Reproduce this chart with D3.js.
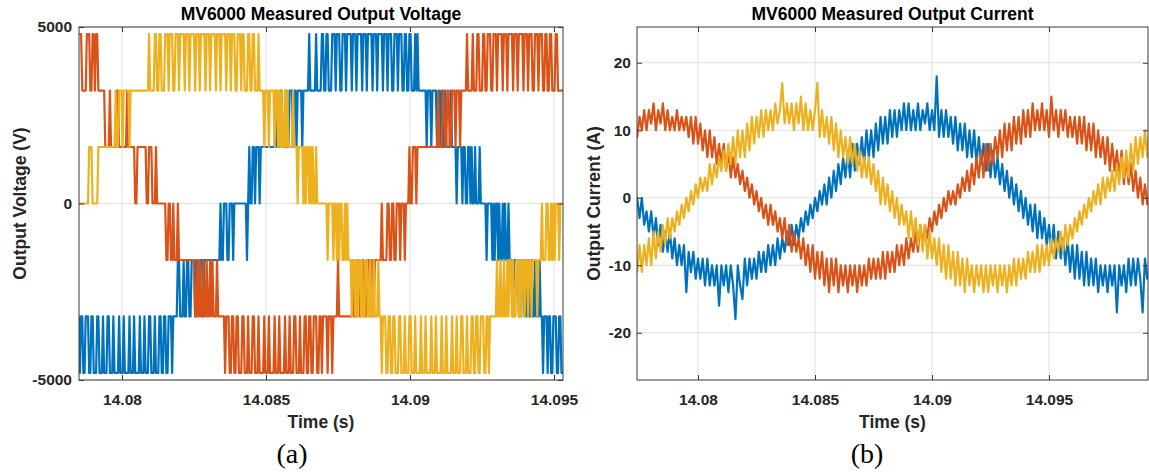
<!DOCTYPE html>
<html>
<head>
<meta charset="utf-8">
<script src="https://cdn.jsdelivr.net/npm/d3@7/dist/d3.min.js"></script>
<style>
  html, body { margin: 0; padding: 0; background: #ffffff; }
  svg { display: block; }
</style>
</head>
<body>
<svg id="fig" width="1149" height="475"></svg>
<script>
// ---------------------------------------------------------------
// Measured output voltage of the three phases (MV6000 cascaded inverter).
// One level code per 40 us sample; code k stands for (k - 3) cell steps.
// ---------------------------------------------------------------
const voltageStart = 14.0785;   // s, first sample
const voltageStep = 0.00004;    // s between samples
const cellStep = 1600;          // V per cell level

// phase A (blue)
const voltageA = [
  "1011","00111","0011","00011","0001","00011","0001","00001","0001","00001",
  "0001","00001","0001","00011","0001","00011","0011","00111","01111",
  "2211","1211","2211","2221","2212","22122",
  "222222222222",
  "3223","3322","3332","33",
  "3333333332",
  "3433","4434","4434","44",
  "4444444444",
  "5444","5544","4544","5554","5545","5554","5555",
  "5655555",
  "65555","6655","66555","6665","66655","6665","66665","6665","66665","6665",
  "66665","6665","66665","6665","66655","6665","66655","6655","66555","65655",
  "55555",
  "4555","4555","5445","4544","5444","45444",
  "4344","4434","4334","4343","3433","3433","33",
  "3233","3323","2332","3223","2322","322",
  "2122","2212","1221","2121","1211","2111","21",
  "1011","1011","00111","0011","00"
].join("");

// phase B (orange)
const voltageB = [
  "6665555666","5566566555",
  "5554444544","4445544444","4454444443","3444444443","3444333433",
  "3333332233","2232223222","2222222222",
  "2112121121","1211212111","2111111011",
  "10011","0011","00011","0001","00011","0001","00001","0001","00001","0001",
  "00001","0001","00011","0001","00011","0011","00111","0011","01111","0111","01111",
  "2111111111111",
  "2111","2211","2211","2221","2212","22222",
  "32222","3322","3322","3332","3332","333",
  "4334443444",
  "444444444444444",
  "5444","5544","5544","5554","5554","55555",
  "65555","6555","66555","6655","66655","6665","66665","6665","66665","6665",
  "66665","6665","66655","6665","66655","6655","66555","6655","555"
].join("");

// phase C (yellow)
const voltageC = [
  "3333333",
  "33444","3333","3444","4",
  "44444444444",
  "5445","5545","5555","4555","5",
  "555555555555",
  "65555","6655","66555","6665","66655","6665","66665","6665","66665","6665","66665",
  "6665","66665","6665","66665","6665","66655","6665","66555","6655","66555","65",
  "555",
  "4555","4555","5455","4545","4454","5444","4544",
  "4344","4434","3443","4343","3433","3",
  "333333",
  "2333","3233","2323","3223","2322",
  "2122","1212","2121","1221","1211","2111","21",
  "1011","10011","0011","00011","0001","00011","0001","00001","0001","00001","0001",
  "00001","0001","00001","0001","00011","0001","00011","0011","00111","0011","01111","11",
  "2112","1121","1212","2121","1221","2122","1221","2212","2221","222",
  "3222","3322","3232","3332","333"
].join("");

// ---------------------------------------------------------------
// Measured output current of the three phases, one sample per 100 us (A).
// ---------------------------------------------------------------
const currentStart = 14.0774;
const currentStep = 0.0001;

// phase A (blue)
const currentA = [
  0,-3,0,-4,-2,-5,-2,-6,-3,-7,
  -4,-8,-5,-8,-5,-9,-6,-10,-7,-10,
  -7,-14,-8,-11,-8,-12,-9,-12,-9,-13,
  -9,-13,-10,-13,-10,-16,-10,-13,-10,-14,
  -10,-13,-18,-10,-13,-15,-9,-13,-9,-12,
  -9,-12,-8,-11,-8,-11,-7,-10,-7,-10,
  -6,-9,-6,-8,-5,-7,-4,-7,-4,-6,
  -3,-5,-2,-4,-1,-3,0,-2,1,-1,
  2,-1,3,0,4,1,5,2,6,3,
  7,3,8,4,8,5,9,5,10,6,
  10,6,11,7,12,8,12,8,13,9,
  13,9,13,10,14,10,14,10,13,10,
  14,10,13,11,14,10,13,10,18,9,
  13,9,13,9,12,8,12,7,11,7,
  11,6,10,6,10,5,9,5,8,4,
  8,3,7,3,6,2,5,1,4,0,
  3,-1,2,-2,1,-3,0,-4,-1,-5,
  -1,-6,-2,-6,-3,-7,-4,-8,-4,-9,
  -5,-9,-6,-10,-6,-11,-7,-12,-7,-12,
  -8,-13,-8,-13,-9,-13,-9,-14,-10,-13,
  -10,-14,-10,-13,-10,-17,-10,-13,-10,-14,
  -9,-13,-9,-13,-9,-12,-17,-9,-12,-10
];

// phase B (orange)
const currentB = [
  9,12,10,13,10,13,11,14,10,13,
  11,14,10,13,10,12,10,13,10,12,
  10,12,9,12,8,12,8,11,7,10,
  6,10,6,9,5,8,5,8,4,7,
  3,6,3,5,2,4,1,3,0,2,
  -1,1,-2,0,-3,-1,-4,-1,-4,-2,
  -5,-3,-6,-3,-7,-4,-8,-5,-8,-6,
  -9,-6,-10,-7,-11,-7,-12,-8,-12,-8,
  -13,-9,-14,-9,-13,-9,-14,-10,-13,-10,
  -14,-10,-13,-10,-14,-10,-13,-10,-13,-9,
  -12,-9,-12,-9,-12,-8,-12,-8,-11,-8,
  -11,-7,-10,-7,-10,-6,-9,-6,-8,-5,
  -8,-4,-7,-4,-6,-3,-5,-2,-4,-1,
  -3,0,-2,1,-1,1,-1,2,0,3,
  1,4,1,5,2,6,3,7,3,8,
  4,8,5,9,6,10,6,11,7,11,
  7,12,8,12,8,13,9,13,9,14,
  10,13,10,14,10,13,9,15,10,13,
  9,13,10,13,9,12,9,12,8,12,
  8,12,7,11,7,11,6,10,6,9,
  5,9,4,8,4,7,3,7,2,6,
  2,5,1,4,0,3,-1,2,-1,1
];

// phase C (yellow)
const currentC = [
  -11,-7,-11,-7,-10,-6,-10,-5,-9,-5,
  -8,-4,-7,-3,-6,-3,-5,-2,-4,-1,
  -3,0,-2,1,-1,2,0,3,1,3,
  1,5,2,5,3,6,4,7,4,8,
  5,9,5,10,6,10,6,11,7,12,
  8,12,9,13,9,13,10,13,10,14,
  11,13,17,11,14,11,14,10,14,11,
  15,10,14,10,13,10,13,17,9,13,
  9,12,8,12,7,11,6,10,6,9,
  5,9,5,8,4,7,3,6,3,6,
  2,5,1,4,-1,3,-1,2,-2,1,
  -3,0,-4,-1,-4,-2,-6,-2,-6,-3,
  -7,-4,-8,-4,-9,-5,-9,-6,-10,-6,
  -11,-7,-12,-7,-12,-8,-13,-8,-13,-9,
  -14,-9,-13,-10,-14,-10,-13,-10,-14,-10,
  -14,-10,-13,-10,-14,-10,-13,-10,-14,-10,
  -13,-9,-13,-9,-12,-9,-12,-8,-11,-8,
  -11,-7,-11,-7,-10,-7,-10,-6,-9,-6,
  -8,-5,-8,-4,-7,-4,-6,-3,-5,-2,
  -4,-1,-3,0,-2,1,-1,2,-1,3,
  0,3,1,4,1,5,2,6,3,7,
  3,8,4,9,5,9,6,10,6,11
];

// axis ticks
const timeTicks = [14.08, 14.085, 14.09, 14.095];
const timeTickLabels = ["14.08", "14.085", "14.09", "14.095"];
const voltageTicks = [-5000, 0, 5000];
const voltageTickLabels = ["-5000", "0", "5000"];
const currentTicks = [-20, -10, 0, 10, 20];
const currentTickLabels = ["-20", "-10", "0", "10", "20"];

// ---------------------------------------------------------------
// drawing
// ---------------------------------------------------------------
const svg = d3.select("#fig");
const sansFont = '"Liberation Sans", Arial, Helvetica, sans-serif';
const serifFont = '"Liberation Serif", "Times New Roman", serif';
const ink = "#262626";
const axisColor = "#3a3a3a";
const gridColor = "#dfdfdf";
const seriesColors = ["#0072BD", "#D95319", "#EDB120"];

function voltageSeries(codes) {
  return Array.from(codes, (c, i) => [voltageStart + i * voltageStep, (+c - 3) * cellStep]);
}
function currentSeries(values) {
  return values.map((v, i) => [currentStart + i * currentStep, v]);
}

function drawPanel(o) {
  const x = d3.scaleLinear().domain(o.xDomain).range([o.l, o.r]);
  const y = d3.scaleLinear().domain(o.yDomain).range([o.b, o.t]);
  const g = svg.append("g");

  // grid lines
  g.append("g").selectAll("line").data(o.xTicks).join("line")
    .attr("x1", d => x(d)).attr("x2", d => x(d))
    .attr("y1", o.t).attr("y2", o.b)
    .attr("stroke", gridColor).attr("stroke-width", 1);
  g.append("g").selectAll("line").data(o.yTicks).join("line")
    .attr("x1", o.l).attr("x2", o.r)
    .attr("y1", d => y(d)).attr("y2", d => y(d))
    .attr("stroke", gridColor).attr("stroke-width", 1);

  // data lines, clipped to the plot area
  g.append("clipPath").attr("id", o.id).append("rect")
    .attr("x", o.l).attr("y", o.t)
    .attr("width", o.r - o.l).attr("height", o.b - o.t);
  const line = d3.line().x(d => x(d[0])).y(d => y(d[1]));
  const plot = g.append("g").attr("clip-path", `url(#${o.id})`);
  o.series.forEach((s, k) => {
    plot.append("path")
      .attr("d", line(s))
      .attr("fill", "none")
      .attr("stroke", seriesColors[k])
      .attr("stroke-width", 2.2)
      .attr("stroke-linejoin", "round")
      .attr("stroke-linecap", "round");
  });

  // axes with inward ticks on all four sides
  const styleAxis = sel => {
    sel.select(".domain").remove();
    sel.selectAll(".tick line").attr("stroke", axisColor);
    sel.selectAll(".tick text")
      .attr("fill", ink)
      .attr("font-family", sansFont)
      .attr("font-weight", "bold")
      .attr("font-size", 15.5);
  };
  g.append("g").attr("transform", `translate(0,${o.b})`)
    .call(d3.axisBottom(x).tickValues(o.xTicks).tickFormat((d, i) => o.xLabels[i])
      .tickSizeInner(-5).tickSizeOuter(0).tickPadding(14))
    .call(styleAxis);
  g.append("g").attr("transform", `translate(0,${o.t})`)
    .call(d3.axisTop(x).tickValues(o.xTicks).tickFormat(() => "")
      .tickSizeInner(-5).tickSizeOuter(0))
    .call(styleAxis);
  g.append("g").attr("transform", `translate(${o.l},0)`)
    .call(d3.axisLeft(y).tickValues(o.yTicks).tickFormat((d, i) => o.yLabels[i])
      .tickSizeInner(-5).tickSizeOuter(0).tickPadding(o.yPad))
    .call(styleAxis);
  g.append("g").attr("transform", `translate(${o.r},0)`)
    .call(d3.axisRight(y).tickValues(o.yTicks).tickFormat(() => "")
      .tickSizeInner(-5).tickSizeOuter(0))
    .call(styleAxis);

  // frame
  g.append("rect")
    .attr("x", o.l).attr("y", o.t)
    .attr("width", o.r - o.l).attr("height", o.b - o.t)
    .attr("fill", "none").attr("stroke", axisColor).attr("stroke-width", 1);

  const cx = (o.l + o.r) / 2, cy = (o.t + o.b) / 2;
  // title
  g.append("text").text(o.title)
    .attr("x", cx).attr("y", 19.5)
    .attr("text-anchor", "middle")
    .attr("font-family", sansFont).attr("font-weight", "bold")
    .attr("font-size", 17.5).attr("fill", "#000");
  // axis titles
  g.append("text").text(o.xTitle)
    .attr("x", cx).attr("y", 428)
    .attr("text-anchor", "middle")
    .attr("font-family", sansFont).attr("font-weight", "bold")
    .attr("font-size", 17.5).attr("fill", ink);
  g.append("text").text(o.yTitle)
    .attr("transform", `translate(${o.yTitleX},${cy}) rotate(-90)`)
    .attr("text-anchor", "middle")
    .attr("font-family", sansFont).attr("font-weight", "bold")
    .attr("font-size", 17.5).attr("fill", ink);
  // sub-figure caption
  g.append("text").text(o.caption)
    .attr("x", o.captionX).attr("y", 463)
    .attr("text-anchor", "middle")
    .attr("font-family", serifFont)
    .attr("font-size", 28).attr("fill", "#000");
}

drawPanel({
  id: "clipVoltage",
  l: 79, r: 563, t: 27, b: 380,
  xDomain: [14.078507, 14.0953125],
  yDomain: [-5000, 5000],
  xTicks: timeTicks, xLabels: timeTickLabels,
  yTicks: voltageTicks, yLabels: voltageTickLabels, yPad: 7,
  title: "MV6000 Measured Output Voltage",
  xTitle: "Time (s)",
  yTitle: "Output Voltage (V)", yTitleX: 26,
  caption: "(a)", captionX: 292,
  series: [voltageSeries(voltageA), voltageSeries(voltageB), voltageSeries(voltageC)]
});

drawPanel({
  id: "clipCurrent",
  l: 637, r: 1148, t: 27, b: 380,
  xDomain: [14.077393, 14.09923],
  yDomain: [-27, 25.3],
  xTicks: timeTicks, xLabels: timeTickLabels,
  yTicks: currentTicks, yLabels: currentTickLabels, yPad: 6,
  title: "MV6000 Measured Output Current",
  xTitle: "Time (s)",
  yTitle: "Output Current (A)", yTitleX: 600,
  caption: "(b)", captionX: 867,
  series: [currentSeries(currentA), currentSeries(currentB), currentSeries(currentC)]
});
</script>
</body>
</html>
